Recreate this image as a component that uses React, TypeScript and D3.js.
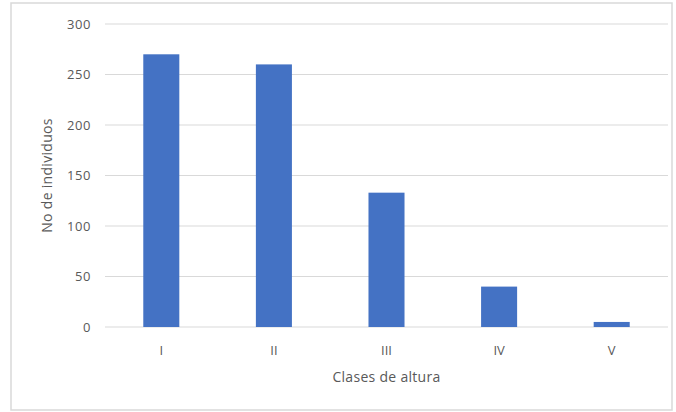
import React from "react";
import * as d3 from "d3";

const categories = ["I", "II", "III", "IV", "V"];
const values = [270, 260, 133, 40, 5];
const yTicks = [0, 50, 100, 150, 200, 250, 300];

export default function App() {
  const W = 676, H = 412;
  const left = 105, right = 668, top = 24, bottom = 327;
  const x = d3.scaleBand<string>().domain(categories).range([left, right]).paddingInner(0.68).paddingOuter(0.34);
  const y = d3.scaleLinear().domain([0, 300]).range([bottom, top]);
  const font = "'Open Sans', sans-serif";
  const txt = "#595959";
  return (
    <svg width={W} height={H} style={{ position: "absolute", left: 0, top: 0, background: "#fff" }}>
      <rect x={11} y={3} width={661} height={407} fill="#fff" stroke="#d9d9d9" strokeWidth={1.5} />
      {yTicks.map((t) => (
        <g key={t}>
          <line x1={left} x2={right} y1={y(t)} y2={y(t)} stroke="#d9d9d9" strokeWidth={1} />
          <text x={91} y={y(t)} dy="0.35em" textAnchor="end" fontFamily={font} fontSize={13} fill={txt} letterSpacing={0.6}>{t}</text>
        </g>
      ))}
      {categories.map((c, i) => (
        <rect key={c} x={x(c)} y={y(values[i])} width={x.bandwidth()} height={bottom - y(values[i])} fill="#4472C4" />
      ))}
      {categories.map((c) => (
        <text key={c} x={(x(c) as number) + x.bandwidth() / 2} y={350} dy="0.35em" textAnchor="middle" fontFamily={font} fontSize={13} fill={txt}>{c}</text>
      ))}
      <text x={(left + right) / 2} y={377} dy="0.35em" textAnchor="middle" fontFamily={font} fontSize={14} fill={txt} letterSpacing={0.3}>Clases de altura</text>
      <text transform={`translate(47,${(top + bottom) / 2}) rotate(-90)`} textAnchor="middle" dy="0.35em" fontFamily={font} fontSize={14} fill={txt} letterSpacing={0.3}>No de individuos</text>
    </svg>
  );
}
